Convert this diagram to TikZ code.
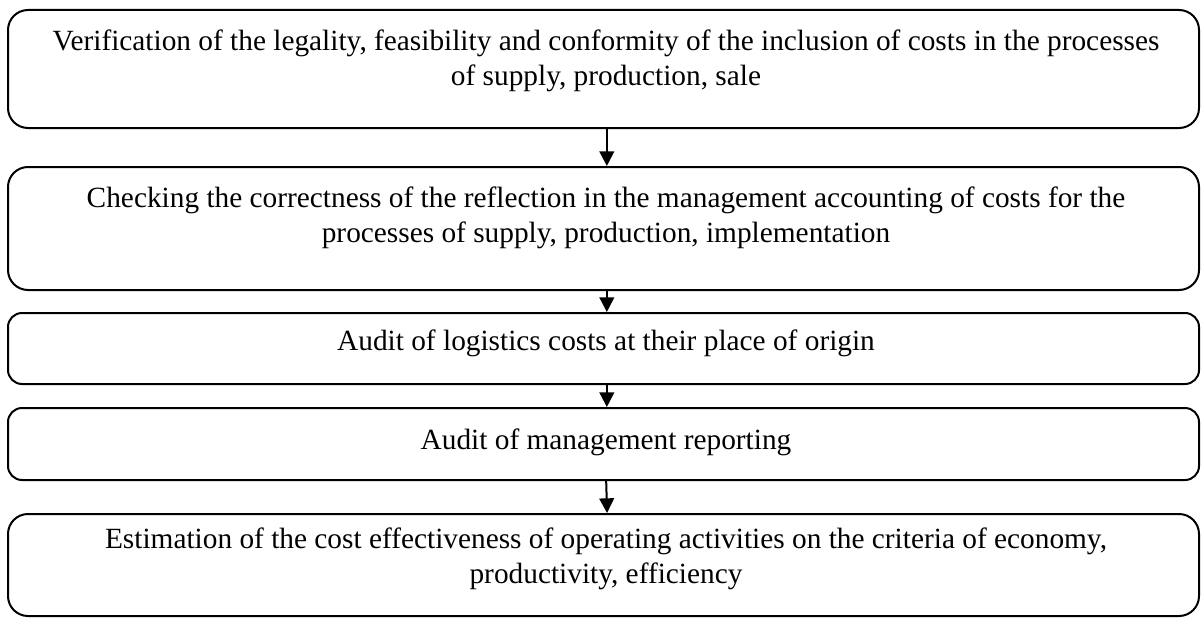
\documentclass[tikz,border=0pt]{standalone}
\usepackage{fontspec}
\setmainfont{Liberation Serif}
\usetikzlibrary{arrows.meta}
\begin{document}
\begin{tikzpicture}[x=0.75pt,y=-0.75pt,
  stagebox/.style={draw=black, line width=1.5pt, rounded corners=15pt,
    minimum width=1191*0.75pt, inner sep=0pt},
  slimbox/.style={stagebox, rounded corners=10.5pt},
  stagetext/.style={align=center, inner sep=0pt,
    font=\fontsize{22}{26.25}\selectfont},
  flow/.style={line width=1.5pt, -{Triangle[length=11pt,width=11pt]}}]
\useasboundingbox[fill=white] (0,0) rectangle (1201,617);

% stage frames
\node[stagebox, minimum height=118*0.75pt] (b1) at (603.5,69) {};
\node[stagebox, minimum height=123*0.75pt] (b2) at (603.5,228.5) {};
\node[slimbox, minimum height=71*0.75pt]  (b3) at (603.5,348.5) {};
\node[slimbox, minimum height=72*0.75pt]  (b4) at (603.5,444) {};
\node[stagebox, minimum height=102*0.75pt] (b5) at (603.5,565) {};

% stage texts
\node[stagetext] (t1) at (606,60.5) {Verification of the legality, feasibility and conformity of the inclusion of costs in the processes\\ of supply, production, sale};
\node[stagetext] (t2) at (606,217.5) {Checking the correctness of the reflection in the management accounting of costs for the\\ processes of supply, production, implementation};
\node[stagetext] (t3) at (606,343) {Audit of logistics costs at their place of origin};
\node[stagetext] (t4) at (606,442) {Audit of management reporting};
\node[stagetext] (t5) at (606,558.5) {Estimation of the cost effectiveness of operating activities on the criteria of economy,\\ productivity, efficiency};

% connectors between stages
\draw[flow] ([xshift=2.5pt]b1.south) -- ([xshift=2.5pt]b2.north);
\draw[flow] ([xshift=2.5pt]b2.south) -- ([xshift=2.5pt]b3.north);
\draw[flow] ([xshift=2.5pt]b3.south) -- ([xshift=2.5pt]b4.north);
\draw[flow] ([xshift=2pt]b4.south) -- ([xshift=2.7pt]b5.north);
\end{tikzpicture}
\end{document}
